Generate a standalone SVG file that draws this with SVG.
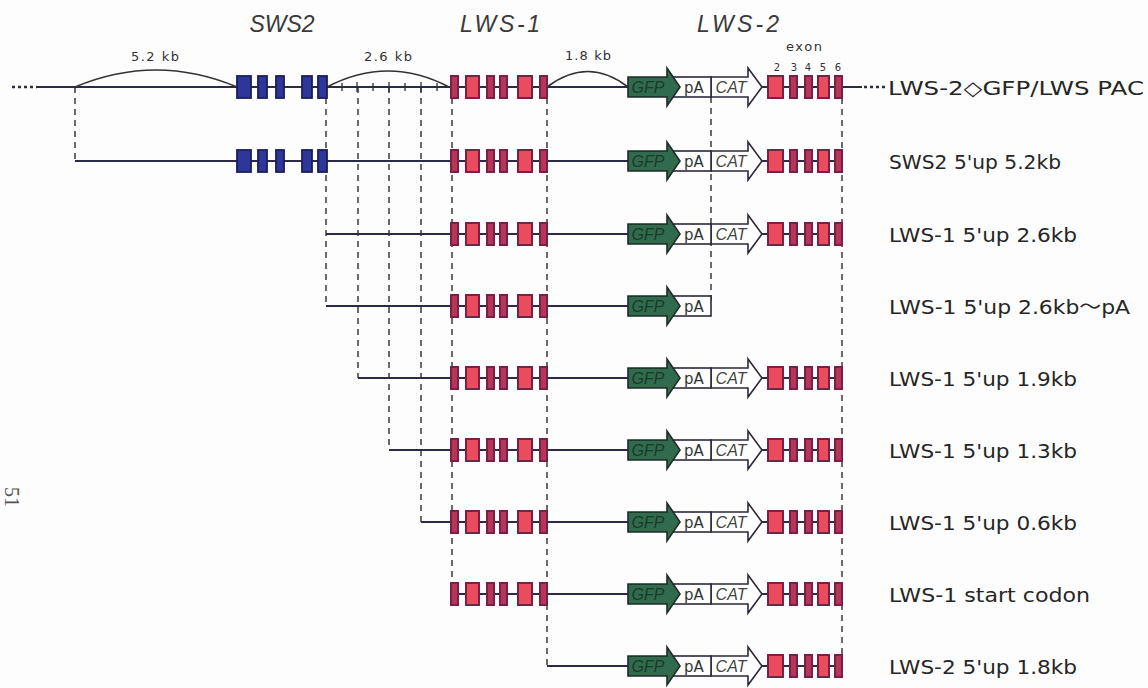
<svg xmlns="http://www.w3.org/2000/svg" xmlns:xlink="http://www.w3.org/1999/xlink" width="1148" height="688" viewBox="0 0 1148 688">
<style>
.ln{stroke:#2b2b45;stroke-width:2;fill:none}
.dot{stroke:#2b2b45;stroke-width:2.5;fill:none;stroke-dasharray:3,3}
.dsh{stroke:#3a3a3a;stroke-width:1.5;fill:none;stroke-dasharray:6,5}
.arc{stroke:#333;stroke-width:1.6;fill:none}
.tk{stroke:#2b2b45;stroke-width:1.3}
.bl{fill:#2c3799;stroke:#1c1c5e;stroke-width:1.8}
.rd{fill:#ea4c5e;stroke:#7a2048;stroke-width:2}
.rn{fill:#b8355a;stroke:#7a2048;stroke-width:2}
.gfp{fill:#2f6b4c;stroke:#1f2a2a;stroke-width:1.6}
.wb{fill:#fff;stroke:#2a2a3a;stroke-width:1.6}
.gene{font-family:"Liberation Sans",Arial,sans-serif;font-style:italic;font-size:23px;fill:#3a3a3a;text-anchor:middle}
.kb{font-family:"DejaVu Sans",sans-serif;font-size:13px;fill:#333;text-anchor:middle}
.en{font-family:"DejaVu Sans",sans-serif;font-size:10px;fill:#333;text-anchor:middle}
.lab{font-family:"DejaVu Sans","Noto Sans CJK JP",sans-serif;font-size:20px;fill:#262626}
.gt{font-family:"Liberation Sans",Arial,sans-serif;font-style:italic;font-size:16px;fill:#1d3a2a;text-anchor:middle}
.ct{font-family:"Liberation Sans",Arial,sans-serif;font-style:italic;font-size:16px;fill:#444;text-anchor:middle}
.pt{font-family:"DejaVu Sans",sans-serif;font-size:15px;fill:#333;text-anchor:middle}
</style>
<defs>
<g id="sws2ex">
<rect class="bl" x="237" y="-11" width="14" height="22"/>
<rect class="bl" x="258" y="-11" width="9" height="22"/>
<rect class="bl" x="276" y="-11" width="8" height="22"/>
<rect class="bl" x="302" y="-11" width="10" height="22"/>
<rect class="bl" x="318" y="-11" width="9" height="22"/>
</g>
<g id="lws1ex">
<rect class="rn" x="451" y="-11" width="7" height="22"/>
<rect class="rd" x="466" y="-11" width="13" height="22"/>
<rect class="rn" x="487" y="-11" width="7" height="22"/>
<rect class="rn" x="500" y="-11" width="7" height="22"/>
<rect class="rd" x="518" y="-11" width="14" height="22"/>
<rect class="rn" x="540" y="-11" width="7" height="22"/>
</g>
<g id="lws2ex">
<rect class="rd" x="768" y="-11" width="15" height="22"/>
<rect class="rn" x="790" y="-11" width="7" height="22"/>
<rect class="rn" x="805" y="-11" width="7" height="22"/>
<rect class="rd" x="818" y="-11" width="11" height="22"/>
<rect class="rn" x="835" y="-11" width="7" height="22"/>
</g>
<g id="gfppa">
<rect class="wb" x="668" y="-10" width="43" height="20"/>
<polygon class="gfp" points="628,-10 667,-10 667,-19 680,0 667,19 667,10 628,10"/>
<text class="gt" x="648" y="6">GFP</text>
<text class="pt" x="694" y="6">pA</text>
</g>
<g id="cas">
<polygon class="wb" points="711,-10 748,-10 748,-19 762,0 748,19 748,10 711,10"/>
<use xlink:href="#gfppa"/>
<text class="ct" x="731" y="6">CAT</text>
<line class="ln" x1="762" y1="0" x2="768" y2="0"/>
</g>
</defs>
<rect width="1148" height="688" fill="#fdfdfd"/>

<g id="connectors">
<line class="dsh" x1="75" y1="87" x2="75" y2="161"/>
<line class="dsh" x1="326" y1="98" x2="326" y2="306"/>
<line class="dsh" x1="358" y1="87" x2="358" y2="378"/>
<line class="dsh" x1="389" y1="87" x2="389" y2="450"/>
<line class="dsh" x1="421" y1="87" x2="421" y2="522"/>
<line class="dsh" x1="452" y1="98" x2="452" y2="594"/>
<line class="dsh" x1="547" y1="98" x2="547" y2="666"/>
<line class="dsh" x1="711" y1="97" x2="711" y2="306"/>
<line class="dsh" x1="842" y1="98" x2="842" y2="666"/>
</g>

<g id="gene-labels">
<text class="gene" x="282" y="32">SWS2</text>
<text class="gene" x="500" y="32" textLength="80">LWS-1</text>
<text class="gene" x="738" y="32" textLength="82">LWS-2</text>
<text class="kb" x="155" y="61" textLength="48">5.2 kb</text>
<text class="kb" x="388" y="61" textLength="48">2.6 kb</text>
<text class="kb" x="588" y="60" textLength="46">1.8 kb</text>
<text class="kb" x="804" y="51" textLength="36">exon</text>
<text class="en" x="777" y="71">2</text>
<text class="en" x="794" y="71">3</text>
<text class="en" x="808" y="71">4</text>
<text class="en" x="823" y="71">5</text>
<text class="en" x="838" y="71">6</text>
</g>

<g id="row0">
<line class="dot" x1="12" y1="87" x2="37" y2="87"/>
<line class="ln" x1="37" y1="87" x2="862" y2="87"/>
<line class="dot" x1="864" y1="87" x2="886" y2="87"/>
<path class="arc" d="M75,87 Q156,53 237,87"/>
<path class="arc" d="M327,87 Q388,55 449,87"/>
<path class="arc" d="M547,87 Q588,56 628,87"/>
<g class="tk">
<line x1="342" y1="83" x2="342" y2="91"/>
<line x1="357" y1="82" x2="357" y2="92"/>
<line x1="373" y1="83" x2="373" y2="91"/>
<line x1="389" y1="82" x2="389" y2="92"/>
<line x1="405" y1="83" x2="405" y2="91"/>
<line x1="421" y1="82" x2="421" y2="92"/>
<line x1="437" y1="83" x2="437" y2="91"/>
</g>
<g transform="translate(0,87)">
<use xlink:href="#sws2ex"/><use xlink:href="#lws1ex"/><use xlink:href="#cas"/><use xlink:href="#lws2ex"/>
</g>
<text class="lab" x="888" y="95" textLength="256" lengthAdjust="spacingAndGlyphs">LWS-2◇GFP/LWS PAC</text>
</g>

<g id="row1" transform="translate(0,161)">
<line class="ln" x1="75" y1="0" x2="842" y2="0"/>
<use xlink:href="#sws2ex"/><use xlink:href="#lws1ex"/><use xlink:href="#cas"/><use xlink:href="#lws2ex"/>
<text class="lab" x="889" y="8" textLength="172" lengthAdjust="spacingAndGlyphs">SWS2 5'up 5.2kb</text>
</g>

<g id="row2" transform="translate(0,234)">
<line class="ln" x1="326" y1="0" x2="842" y2="0"/>
<use xlink:href="#lws1ex"/><use xlink:href="#cas"/><use xlink:href="#lws2ex"/>
<text class="lab" x="889" y="8" textLength="188" lengthAdjust="spacingAndGlyphs">LWS-1 5'up 2.6kb</text>
</g>

<g id="row3" transform="translate(0,306)">
<line class="ln" x1="326" y1="0" x2="630" y2="0"/>
<use xlink:href="#lws1ex"/><use xlink:href="#gfppa"/>
<text class="lab" x="889" y="8" textLength="241" lengthAdjust="spacingAndGlyphs">LWS-1 5'up 2.6kb～pA</text>
</g>

<g id="row4" transform="translate(0,378)">
<line class="ln" x1="358" y1="0" x2="842" y2="0"/>
<use xlink:href="#lws1ex"/><use xlink:href="#cas"/><use xlink:href="#lws2ex"/>
<text class="lab" x="889" y="8" textLength="188" lengthAdjust="spacingAndGlyphs">LWS-1 5'up 1.9kb</text>
</g>

<g id="row5" transform="translate(0,450)">
<line class="ln" x1="389" y1="0" x2="842" y2="0"/>
<use xlink:href="#lws1ex"/><use xlink:href="#cas"/><use xlink:href="#lws2ex"/>
<text class="lab" x="889" y="8" textLength="188" lengthAdjust="spacingAndGlyphs">LWS-1 5'up 1.3kb</text>
</g>

<g id="row6" transform="translate(0,522)">
<line class="ln" x1="421" y1="0" x2="842" y2="0"/>
<use xlink:href="#lws1ex"/><use xlink:href="#cas"/><use xlink:href="#lws2ex"/>
<text class="lab" x="889" y="8" textLength="188" lengthAdjust="spacingAndGlyphs">LWS-1 5'up 0.6kb</text>
</g>

<g id="row7" transform="translate(0,594)">
<line class="ln" x1="452" y1="0" x2="842" y2="0"/>
<use xlink:href="#lws1ex"/><use xlink:href="#cas"/><use xlink:href="#lws2ex"/>
<text class="lab" x="889" y="8" textLength="201" lengthAdjust="spacingAndGlyphs">LWS-1 start codon</text>
</g>

<g id="row8" transform="translate(0,666)">
<line class="ln" x1="547" y1="0" x2="842" y2="0"/>
<use xlink:href="#cas"/><use xlink:href="#lws2ex"/>
<text class="lab" x="889" y="8" textLength="188" lengthAdjust="spacingAndGlyphs">LWS-2 5'up 1.8kb</text>
</g>

<text transform="translate(5,497) rotate(90)" font-family="'Liberation Serif',serif" font-size="20" fill="#555" text-anchor="middle">51</text>
</svg>
